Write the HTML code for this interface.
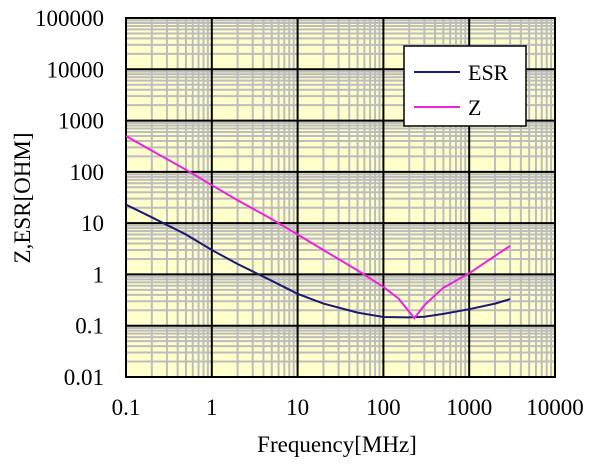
<!DOCTYPE html>
<html><head><meta charset="utf-8"><style>
body{margin:0;background:#fff;width:600px;height:464px;overflow:hidden}
svg text{font-family:"Liberation Serif",serif;fill:#000}
</style></head><body>
<svg id="c" width="600" height="464"></svg>
<script>
const xTicks=[0.1,1,10,100,1000,10000];
const xTickLabels=["0.1","1","10","100","1000","10000"];
const yTicks=[0.01,0.1,1,10,100,1000,10000,100000];
const yTickLabels=["0.01","0.1","1","10","100","1000","10000","100000"];
const zFreq=[0.1,0.2,0.5,1,2,5,10,20,50,100,150,230,300,500,1000,2000,3000];
const zVals=[500,260,110,55,28,12,6,3,1.2,0.57,0.34,0.14,0.25,0.55,1.05,2.3,3.6];
const esrFreq=[0.1,0.2,0.5,1,2,5,10,20,50,100,200,300,500,1000,2000,3000];
const esrVals=[23,13,6,3,1.6,0.75,0.42,0.27,0.18,0.148,0.145,0.15,0.17,0.21,0.27,0.33];

const L=126,R=555,T=18,B=377;
const X=v=>L+(Math.log10(v)+1)/5*(R-L);
const Y=v=>T+(5-Math.log10(v))/7*(B-T);
const ns="http://www.w3.org/2000/svg",svg=document.getElementById('c');
function mk(tag,a,p){const e=document.createElementNS(ns,tag);for(const k in a)e.setAttribute(k,a[k]);(p||svg).appendChild(e);return e;}

const bg=mk('rect',{x:L,y:T,width:R-L,height:B-T,fill:'#ffffcc'});


const g=mk('g',{});


for(let d=-1;d<4;d++)for(let m=2;m<10;m++){const x=X(m*Math.pow(10,d));mk('line',{x1:x,x2:x,y1:T,y2:B,stroke:'#bdbdbd','stroke-width':2},g);}
for(let d=-2;d<5;d++)for(let m=2;m<10;m++){const y=Y(m*Math.pow(10,d));mk('line',{x1:L,x2:R,y1:y,y2:y,stroke:'#bdbdbd','stroke-width':2},g);}
xTicks.forEach((v,i)=>{const x=X(v);mk('line',{x1:x,x2:x,y1:T,y2:B,stroke:'#000','stroke-width':2},g);
 const t=mk('text',{x:x,y:415,'font-size':23,'text-anchor':'middle'});t.textContent=xTickLabels[i];
 
 });
yTicks.forEach((v,i)=>{const y=Y(v);mk('line',{x1:L,x2:R,y1:y,y2:y,stroke:'#000','stroke-width':2},g);
 const t=mk('text',{x:104,y:y+8,'font-size':23,'text-anchor':'end'});t.textContent=yTickLabels[i];
 
 });
mk('rect',{x:L,y:T,width:R-L,height:B-T,fill:'none',stroke:'#000','stroke-width':2});

const pe=mk('path',{d:esrFreq.map((f,i)=>(i?'L':'M')+X(f).toFixed(1)+','+Y(esrVals[i]).toFixed(1)).join(''),fill:'none',stroke:'#1a1a70','stroke-width':2});


const pz=mk('path',{d:zFreq.map((f,i)=>(i?'L':'M')+X(f).toFixed(1)+','+Y(zVals[i]).toFixed(1)).join(''),fill:'none',stroke:'#ee22dd','stroke-width':2});



const lg=mk('g',{});


mk('rect',{x:404,y:46,width:122,height:80,fill:'#fff',stroke:'#000','stroke-width':1.5},lg);
mk('line',{x1:414,x2:460,y1:72,y2:72,stroke:'#1a1a70','stroke-width':2},lg);
const t1=mk('text',{x:468,y:80,'font-size':22},lg);t1.textContent='ESR';
mk('line',{x1:414,x2:460,y1:107,y2:107,stroke:'#ee22dd','stroke-width':2},lg);
const t2=mk('text',{x:468,y:115,'font-size':22},lg);t2.textContent='Z';

const xt=mk('text',{x:337,y:452,'font-size':23,'text-anchor':'middle'});xt.textContent='Frequency[MHz]';


const yt=mk('text',{x:0,y:0,'font-size':23,'text-anchor':'middle',transform:'translate(30,198) rotate(-90)'});yt.textContent='Z,ESR[OHM]';


</script>
</body></html>
